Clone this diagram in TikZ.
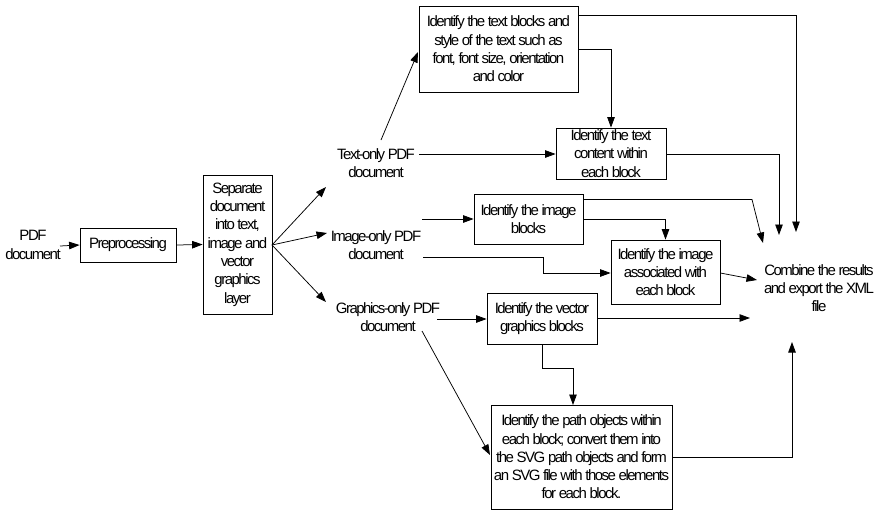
\documentclass[tikz,border=0pt]{standalone}
\usepackage{fontspec}
\setmainfont{Liberation Sans}[LetterSpace=-10]
\usetikzlibrary{arrows.meta}
\begin{document}
\begin{tikzpicture}[x=1pt,y=-1pt,
  every node/.style={font=\fontsize{15}{18.3}\selectfont, align=center, inner sep=0pt},
  box/.style={draw, line width=0.8pt},
  lbl/.style={},
  conn/.style={line width=0.75pt, -{Triangle[length=10.5pt,width=7.5pt]}},
  line join=miter]
\useasboundingbox (0,0) rectangle (878,512);
% boxes
\node[box, minimum width=96pt, minimum height=34pt] (pre) at (128,245) {Preprocessing};
\node[box, minimum width=69pt, minimum height=139pt] (sep) at (237.5,244.5) {Separate\\document\\into text,\\image and\\vector\\graphics\\layer};
\node[box, minimum width=159pt, minimum height=86pt] (tb) at (498.5,49) {Identify the text blocks and\\style of the text such as\\font, font size, orientation\\and color};
\node[box, minimum width=110pt, minimum height=51pt] (tc) at (611,153.5) {Identify the text\\content within\\each block};
\node[box, minimum width=109pt, minimum height=50pt] (ib) at (528.5,219) {Identify the image\\blocks};
\node[box, minimum width=109pt, minimum height=64pt] (ia) at (665.5,272) {Identify the image\\associated with\\each block};
\node[box, minimum width=110pt, minimum height=51pt] (vb) at (542,318.5) {Identify the vector\\graphics blocks};
\node[box, minimum width=181pt, minimum height=104pt] (pb) at (581.5,457) {Identify the path objects within\\each block; convert them into\\the SVG path objects and form\\an SVG file with those elements\\for each block.};
% labels
\node[lbl] (pdf) at (33,245) {PDF\\document};
\node[lbl] (tonly) at (376,163) {Text-only PDF\\document};
\node[lbl] (ionly) at (376,245) {Image-only PDF\\document};
\node[lbl] (gonly) at (388,317) {Graphics-only PDF\\document};
\node[lbl] (comb) at (819,288) {Combine the results\\and export the XML\\file};
% free ends
\coordinate (sepo) at (272,245);
\coordinate (tT) at (326,187);
\coordinate (iT) at (327,233);
\coordinate (gT) at (326,302);
\coordinate (tUp) at (381,140);
\coordinate (tbIn) at (418,52);
\coordinate (tR) at (419,154);
\coordinate (iR1) at (422,219);
\coordinate (iR2) at (423,257);
\coordinate (gR) at (437,319);
\coordinate (gD) at (422,331);
\coordinate (cA) at (796,232);
\coordinate (cB) at (779,235);
\coordinate (cC) at (763,243);
\coordinate (cD) at (757,280);
\coordinate (cE) at (750,318);
\coordinate (cF) at (792,342);
% connectors
\draw[conn] (60,246) -- (pre.west);
\draw[conn] (pre.east) -- (sep.west);
\draw[conn] (sepo) -- (tT);
\draw[conn] (sepo) -- (iT);
\draw[conn] (sepo) -- (gT);
\draw[conn] (tUp) -- (tbIn);
\draw[conn] (tR) -- (tc.west |- tR);
\draw[conn] (tb.east |- 0,49) -| (tc.north);
\draw[conn] (tb.east |- 0,15) -| (cA);
\draw[conn] (tc.east |- 0,154) -| (cB);
\draw[conn] (iR1) -- (ib.west |- iR1);
\draw[conn] (ib.east |- 0,199.5) -- (752,199.5) -- (cC);
\draw[conn] (ib.east |- 0,219) -| (ia.north);
\draw[conn] (iR2) -- (543,257) |- (ia.west |- 0,273);
\draw[conn] (ia.east |- 0,273) -- (cD);
\draw[conn] (gR) -- (vb.west |- gR);
\draw[conn] (vb.east |- 0,318) -- (cE);
\draw[conn] (542,344) -- (542,368) -| (573,405);
\draw[conn] (gD) -- (490,455);
\draw[conn] (pb.east) -| (cF);
\end{tikzpicture}
\end{document}
